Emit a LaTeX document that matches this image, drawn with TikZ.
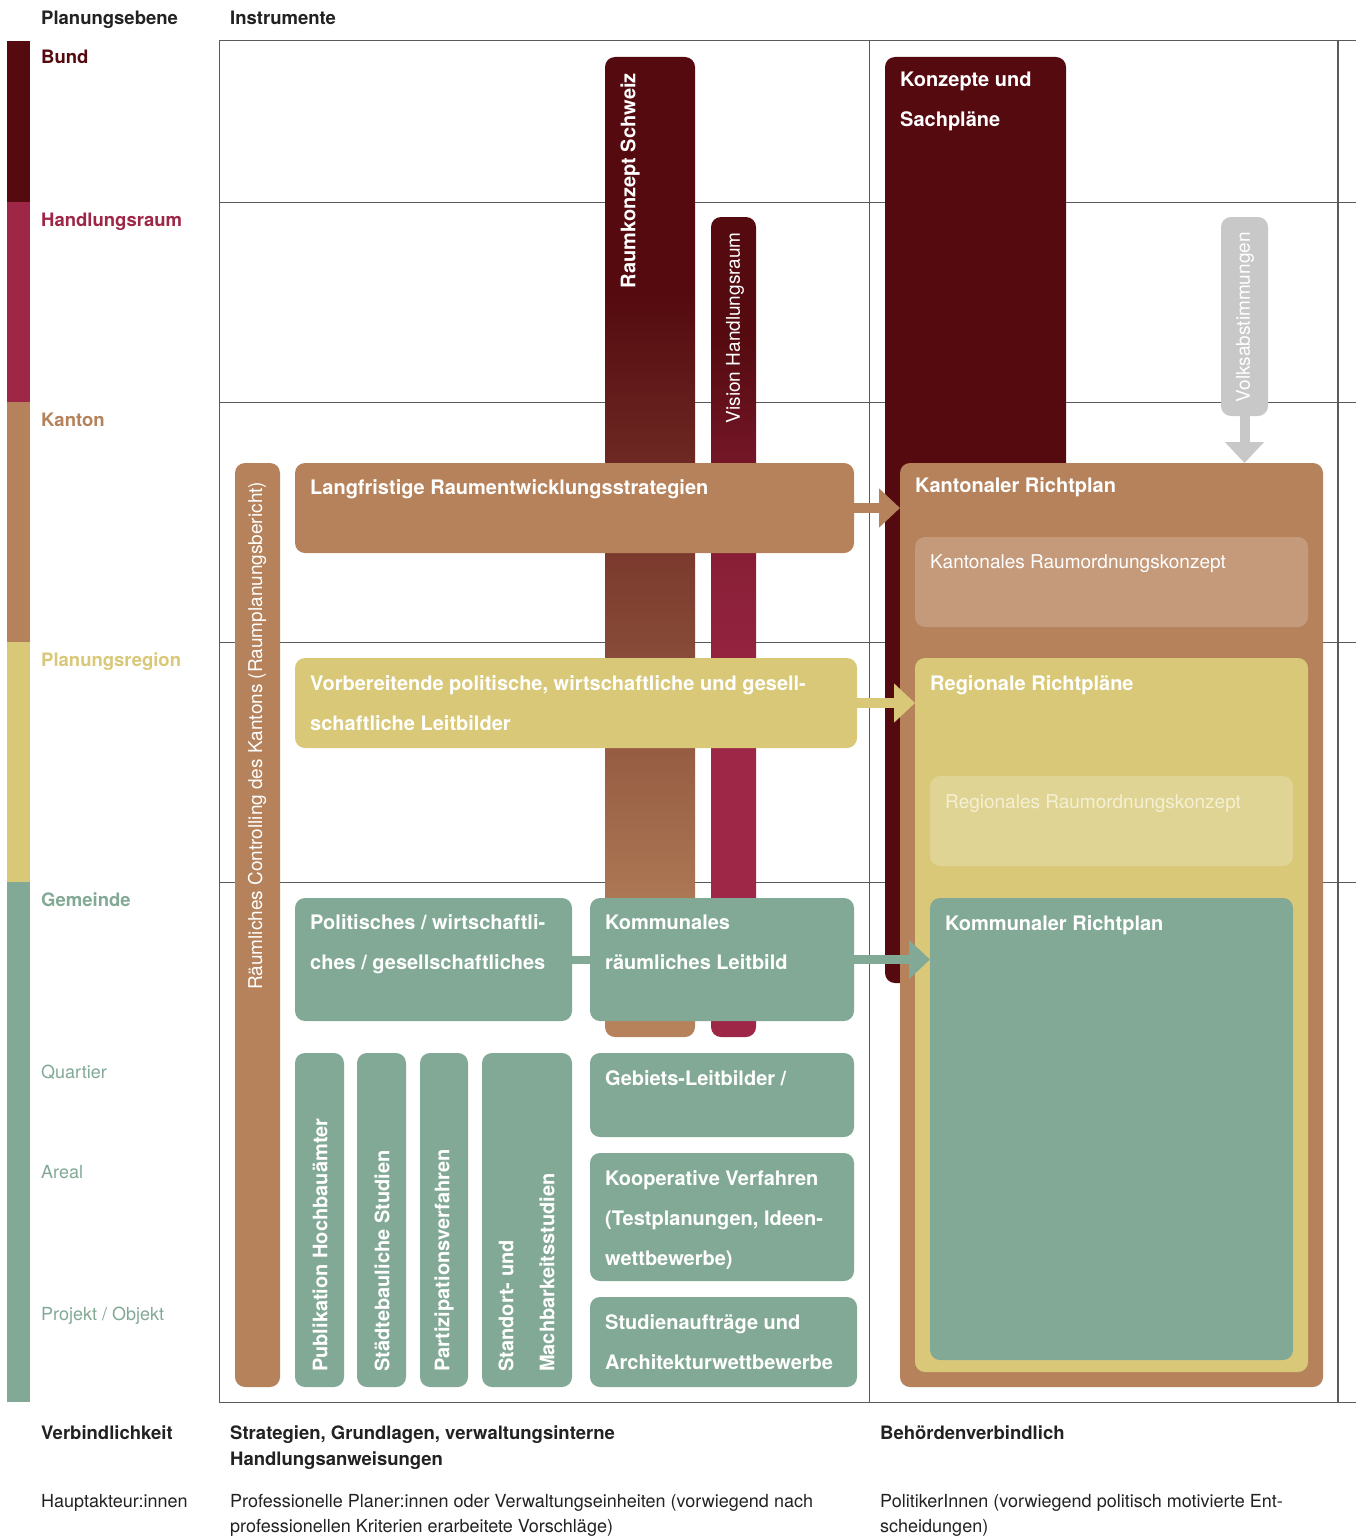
\documentclass[tikz,border=0pt]{standalone}
\usepackage{fontspec}
\setmainfont{TeX Gyre Heros}
\usetikzlibrary{arrows.meta}
\definecolor{dred}{HTML}{540A0F}
\definecolor{crim}{HTML}{9E2747}
\definecolor{brn}{HTML}{B5825B}
\definecolor{yel}{HTML}{D9C878}
\definecolor{grn}{HTML}{82A995}
\definecolor{lbrn}{HTML}{C49A7B}
\definecolor{lyel}{HTML}{DFD494}
\definecolor{gry}{HTML}{C8C8C8}
\definecolor{gridc}{HTML}{5A5A5A}
\definecolor{ink}{HTML}{222222}
\definecolor{paletxt}{HTML}{F5F0D4}
\pgfdeclareverticalshading{rksshade}{100bp}{color(0bp)=(brn); color(29bp)=(brn); color(63bp)=(dred); color(100bp)=(dred)}
\pgfdeclareverticalshading{visshade}{100bp}{color(0bp)=(crim); color(42bp)=(crim); color(49bp)=(crim!84!dred); color(53.5bp)=(crim!73!dred); color(60.4bp)=(crim!42!dred); color(65bp)=(crim!15!dred); color(68bp)=(dred); color(100bp)=(dred)}
\newcommand\rbox[6]{%
  \pgfmathsetmacro\rbW{#4-#2}\pgfmathsetmacro\rbH{#5-#3}%
  \node[#6, anchor=north west, minimum width=\rbW pt, minimum height=\rbH pt] (#1) at (#2,#3) {};}
\newcommand\ml[1]{\parbox[t]{800pt}{#1}}
\begin{document}
\begin{tikzpicture}[x=1pt,y=-1pt,
  gridln/.style={draw=gridc, line width=1pt},
  box/.style={rounded corners=10pt, draw=none, inner sep=0pt, outer sep=0pt},
  ttl/.style={font=\bfseries\fontsize{20}{40}\selectfont, text=white, anchor=base west, inner sep=0pt},
  sublbl/.style={font=\fontsize{19}{40}\selectfont, text=white, anchor=base west, inner sep=0pt},
  vtl/.style={font=\bfseries\fontsize{20}{24}\selectfont, text=white, rotate=90, inner sep=0pt},
  vsub/.style={font=\fontsize{19}{24}\selectfont, text=white, rotate=90, inner sep=0pt},
  lvl/.style={font=\bfseries\fontsize{18.5}{22}\selectfont, anchor=base west, inner sep=0pt},
  lvs/.style={font=\fontsize{18}{22}\selectfont, text=grn, anchor=base west, inner sep=0pt},
  hdr/.style={font=\bfseries\fontsize{18.5}{26}\selectfont, text=ink, anchor=base west, inner sep=0pt},
  foot/.style={font=\fontsize{18}{25}\selectfont, text=ink, anchor=base west, inner sep=0pt},
  barrow/.style={line width=10pt, -{Triangle[width=38pt,length=21pt]}}
]
\useasboundingbox[fill=white] (0,0) rectangle (1356,1536);

% grid
\draw[gridln] (219,41) -- (1356,41);
\foreach \yy in {202,402,642,882} \draw[gridln] (219,\yy) -- (1356,\yy);
\draw[gridln] (219,1402) -- (1356,1402);
\draw[gridln] (219,41) -- (219,1402);
\draw[gridln] (869,41) -- (869,1402);
\draw[gridln, line width=2pt] (1338,41) -- (1338,1402);

% left level bar
\fill[dred] (7,41) rectangle (30,202);
\fill[crim] (7,202) rectangle (30,402);
\fill[brn] (7,402) rectangle (30,642);
\fill[yel] (7,642) rectangle (30,882);
\fill[grn] (7,882) rectangle (30,1402);

% headers and level labels
\node[hdr] (h1) at (41,25) {Planungsebene};
\node[hdr] (h2) at (230,25) {Instrumente};
\node[lvl, text=dred] (l1) at (41,64) {Bund};
\node[lvl, text=crim] (l2) at (41,226) {Handlungsraum};
\node[lvl, text=brn] (l3) at (41,426) {Kanton};
\node[lvl, text=yel] (l4) at (41,666) {Planungsregion};
\node[lvl, text=grn] (l5) at (41,906) {Gemeinde};
\node[lvs] (l6) at (41,1078) {Quartier};
\node[lvs] (l7) at (41,1178) {Areal};
\node[lvs] (l8) at (41,1320) {Projekt / Objekt};

% back bars
\rbox{rks}{605}{57}{695}{1037}{box, shading=rksshade}
\rbox{vis}{711}{217}{756}{1037}{box, shading=visshade}
\rbox{kon}{885}{57}{1066}{983}{box, fill=dred}
\rbox{vol}{1221}{217}{1268}{416}{box, fill=gry}
\node[vtl, anchor=east] (rks-t) at (630,73) {Raumkonzept Schweiz};
\node[vsub, anchor=east] (vis-t) at (735,232) {Vision Handlungsraum};
\node[vsub, anchor=east] (vol-t) at (1245,232) {Volksabstimmungen};
\node[ttl] (kon-t) at (900,87) {\ml{Konzepte und\\Sachpläne}};

% left column
\rbox{ctl}{235}{463}{280}{1387}{box, fill=brn}
\node[vsub, anchor=west] (ctl-t) at (257,990) {Räumliches Controlling des Kantons (Raumplanungsbericht)};

\rbox{lang}{295}{463}{854}{553}{box, fill=brn}
\node[ttl] (lang-t) at (310,494) {Langfristige Raumentwicklungsstrategien};
\rbox{vor}{295}{658}{857}{748}{box, fill=yel}
\node[ttl] (vor-t) at (310,690) {\ml{Vorbereitende politische, wirtschaftliche und gesell-\\schaftliche Leitbilder}};
\rbox{pol}{295}{898}{572}{1021}{box, fill=grn}
\node[ttl] (pol-t) at (310,929) {\ml{Politisches / wirtschaftli-\\ches / gesellschaftliches}};
\rbox{kom}{590}{898}{854}{1021}{box, fill=grn}
\node[ttl] (kom-t) at (605,929) {\ml{Kommunales\\räumliches Leitbild}};
\draw[line width=8pt, grn] (pol.east) -- (kom.west);

\rbox{pub}{295}{1053}{344}{1387}{box, fill=grn}
\rbox{sta}{357}{1053}{406}{1387}{box, fill=grn}
\rbox{par}{420}{1053}{468}{1387}{box, fill=grn}
\rbox{mach}{482}{1053}{572}{1387}{box, fill=grn}
\node[vtl, anchor=west] (pub-t) at (320,1372) {Publikation Hochbauämter};
\node[vtl, anchor=west] (sta-t) at (382,1372) {Städtebauliche Studien};
\node[vtl, anchor=west] (par-t) at (444,1372) {Partizipationsverfahren};
\node[vtl, anchor=west] (mach-t1) at (506,1372) {Standort- und};
\node[vtl, anchor=west] (mach-t2) at (547,1372) {Machbarkeitsstudien};

\rbox{geb}{590}{1053}{854}{1137}{box, fill=grn}
\node[ttl] (geb-t) at (605,1085) {Gebiets-Leitbilder /};
\rbox{koop}{590}{1153}{854}{1281}{box, fill=grn}
\node[ttl] (koop-t) at (605,1185) {\ml{Kooperative Verfahren\\(Testplanungen, Ideen-\\wettbewerbe)}};
\rbox{stud}{590}{1297}{857}{1387}{box, fill=grn}
\node[ttl] (stud-t) at (605,1329) {\ml{Studienaufträge und\\Architekturwettbewerbe}};

% right column
\rbox{kr}{900}{463}{1323}{1387}{box, fill=brn}
\node[ttl] (kr-t) at (915,492) {Kantonaler Richtplan};
\rbox{kro}{915}{537}{1308}{627}{box, fill=lbrn}
\node[sublbl] (kro-t) at (930,568) {Kantonales Raumordnungskonzept};
\rbox{rr}{915}{658}{1308}{1372}{box, fill=yel}
\node[ttl] (rr-t) at (930,690) {Regionale Richtpläne};
\rbox{rro}{930}{776}{1293}{866}{box, fill=lyel}
\node[sublbl, text=paletxt] (rro-t) at (945,808) {Regionales Raumordnungskonzept};
\rbox{kor}{930}{898}{1293}{1360}{box, fill=grn}
\node[ttl] (kor-t) at (945,930) {Kommunaler Richtplan};

% arrows
\draw[barrow, brn] (lang.east) -- (lang.east -| kr.west);
\draw[barrow, yel] (vor.east) -- (vor.east -| rr.west);
\draw[barrow, grn, line width=9pt] (kom.east) -- (kom.east -| kor.west);
\draw[barrow, gry] (vol.south) -- (vol.south |- kr.north);

% footer
\node[hdr] (f1) at (41,1439) {Verbindlichkeit};
\node[hdr] (f2) at (230,1439) {\ml{Strategien, Grundlagen, verwaltungsinterne\\Handlungsanweisungen}};
\node[hdr] (f3) at (880,1439) {Behördenverbindlich};
\node[foot] (f4) at (41,1507) {Hauptakteur:innen};
\node[foot] (f5) at (230,1507) {\ml{Professionelle Planer:innen oder Verwaltungseinheiten (vorwiegend nach\\professionellen Kriterien erarbeitete Vorschläge)}};
\node[foot] (f6) at (880,1507) {\ml{PolitikerInnen (vorwiegend politisch motivierte Ent-\\scheidungen)}};
\end{tikzpicture}
\end{document}
